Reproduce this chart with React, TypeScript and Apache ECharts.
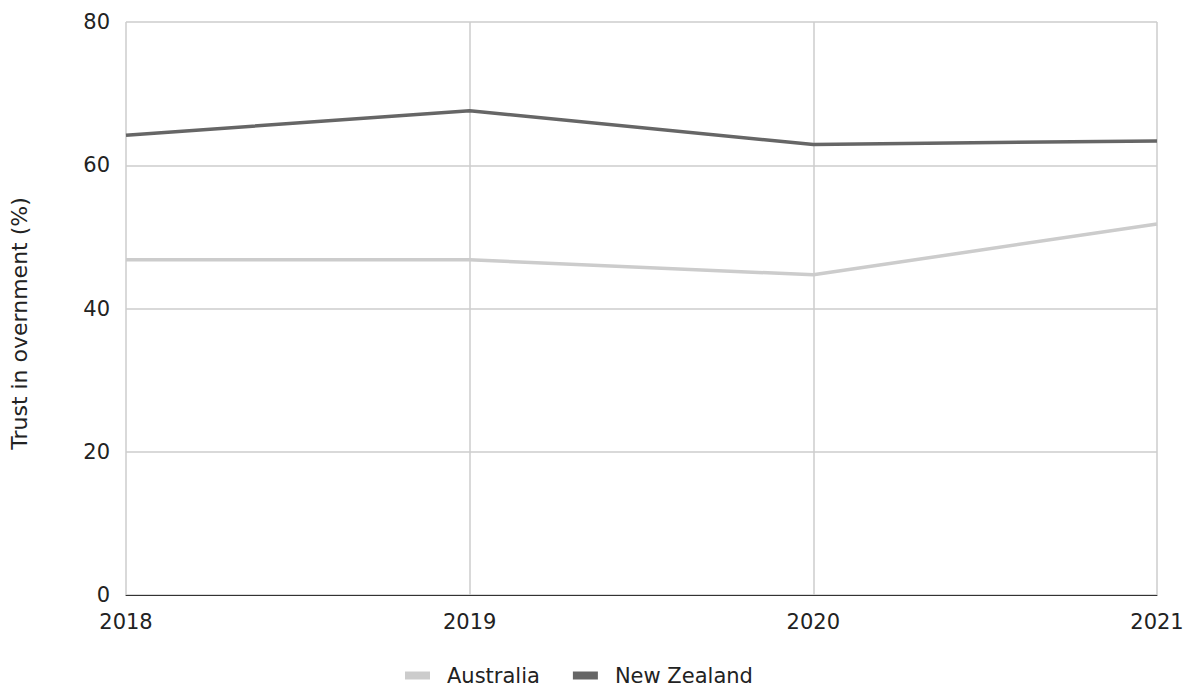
import React, { useEffect, useRef } from "react";
import * as echarts from "echarts";

const years = ["2018", "2019", "2020", "2021"];
const australia = [46.8, 46.8, 44.7, 51.8];
const newZealand = [64.2, 67.6, 62.9, 63.4];
const yTicks = { min: 0, max: 80, interval: 20 };

export default function App() {
  const ref = useRef<HTMLDivElement>(null);
  useEffect(() => {
    const chart = echarts.init(ref.current!, undefined, { renderer: "svg" });
    const font = "DejaVu Sans, Liberation Sans, sans-serif";
    chart.setOption({
      animation: false,
      textStyle: { fontFamily: font },
      grid: { left: 126, right: 35, top: 22, bottom: 93, containLabel: false },
      legend: {
        top: 665,
        left: 405,
        itemWidth: 25,
        itemHeight: 8,
        itemGap: 33,
        icon: "rect",
        padding: 0,
        textStyle: { fontSize: 21, color: "#222", fontFamily: font, padding: [0, 0, 0, 12] },
        data: ["Australia", "New Zealand"],
      },
      xAxis: {
        type: "category",
        data: years,
        boundaryGap: false,
        axisLine: { show: true, lineStyle: { color: "#333", width: 1 } },
        axisTick: { show: false },
        axisLabel: { fontSize: 21, color: "#222", margin: 16 },
        splitLine: { show: true, lineStyle: { color: "#cccccc", width: 1.5 } },
      },
      yAxis: {
        type: "value",
        min: yTicks.min,
        max: yTicks.max,
        interval: yTicks.interval,
        name: "Trust in overnment (%)",
        nameLocation: "middle",
        nameGap: 96,
        nameTextStyle: { fontSize: 22, color: "#222", padding: [0, 30, 0, 0] },
        axisLine: { show: false },
        axisTick: { show: false },
        axisLabel: { fontSize: 21, color: "#222", margin: 16 },
        splitLine: { show: true, lineStyle: { color: "#cccccc", width: 1.5 } },
      },
      series: [
        {
          name: "Australia",
          type: "line",
          data: australia,
          symbol: "none",
          color: "#cccccc",
          lineStyle: { width: 3.5, color: "#cccccc" },
        },
        {
          name: "New Zealand",
          type: "line",
          data: newZealand,
          symbol: "none",
          color: "#666666",
          lineStyle: { width: 3.5, color: "#666666" },
        },
      ],
    });
    return () => chart.dispose();
  }, []);
  return (
    <div
      ref={ref}
      style={{ position: "fixed", left: 0, top: 0, width: 1192, height: 688, background: "#fff" }}
    />
  );
}
